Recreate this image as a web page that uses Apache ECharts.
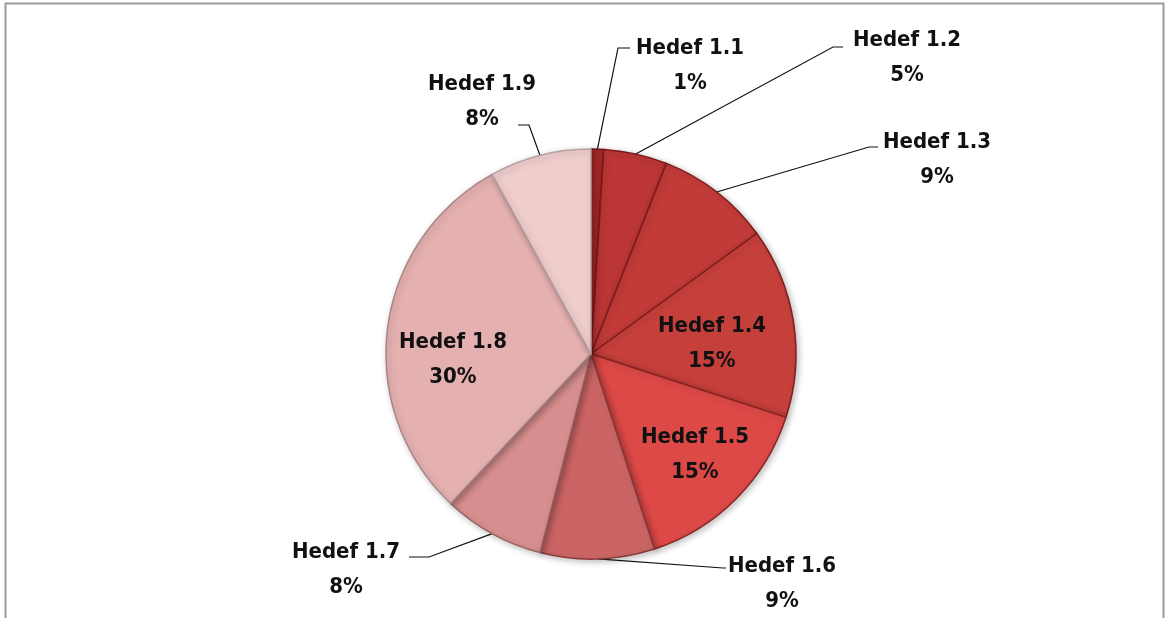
<!DOCTYPE html>
<html>
<head>
<meta charset="utf-8">
<script src="https://cdn.jsdelivr.net/npm/echarts@6/dist/echarts.min.js"></script>
<style>
html,body{margin:0;padding:0;background:#fff;}
#c{width:1169px;height:618px;}
</style>
</head>
<body>
<div id="c"></div>
<script>
const categories = ['Hedef 1.1','Hedef 1.2','Hedef 1.3','Hedef 1.4','Hedef 1.5','Hedef 1.6','Hedef 1.7','Hedef 1.8','Hedef 1.9'];
const values = [1, 5, 9, 15, 15, 9, 8, 30, 8];
const colors = ['#a82a2a','#bd3636','#c23b38','#c6403b','#dd4947','#cb6565','#d78e8e','#e5b0b0','#f0cdcd'];
const borders = ['#6e1414','#7a1a1a','#7e1c1c','#801e1e','#8c2424','#8a3a3a','#9a6060','#a88484','#b8a0a0'];
const insideSet = [3, 4, 7];

// label layout (text centre, line bend, line end)
const labelLayoutCfg = {
  0: {x: 690, y: 66, bend: [618, 48], end: [630, 48]},
  1: {x: 907, y: 58, bend: [833, 47], end: [843, 47]},
  2: {x: 937, y: 160, bend: [869, 147], end: [878, 147]},
  3: {x: 712, y: 344},
  4: {x: 695, y: 455},
  5: {x: 782, y: 584, bend: [723, 568], end: [726, 568]},
  6: {x: 346, y: 570, bend: [429, 557], end: [409, 557]},
  7: {x: 453, y: 360},
  8: {x: 482, y: 102, bend: [529, 125], end: [518, 125]}
};

const data = categories.map((name, i) => {
  const inside = insideSet.indexOf(i) >= 0;
  return {
    name: name,
    value: values[i],
    itemStyle: {color: colors[i], borderColor: borders[i]},
    label: {position: inside ? 'inside' : 'outside'},
    labelLine: {show: !inside}
  };
});

const chart = echarts.init(document.getElementById('c'), null, {renderer: 'canvas'});
chart.setOption({
  animation: false,
  backgroundColor: '#ffffff',
  graphic: [{
    type: 'polyline',
    shape: {points: [[5.5, 618], [5.5, 3.5], [1163.5, 3.5], [1163.5, 618]]},
    style: {stroke: '#9a9a9a', lineWidth: 2, fill: null},
    silent: true
  }],
  series: [{
    type: 'pie',
    center: [591, 354],
    radius: 205,
    startAngle: 90,
    clockwise: true,
    data: data,
    itemStyle: {borderWidth: 1.5, shadowBlur: 6, shadowColor: 'rgba(0,0,0,0.25)', shadowOffsetX: 2, shadowOffsetY: 2},
    label: {
      show: true,
      formatter: '{b}\n{c}%',
      fontFamily: '"DejaVu Sans Condensed", "DejaVu Sans", sans-serif',
      fontWeight: 'bold',
      fontSize: 22,
      lineHeight: 35,
      color: '#111111',
      align: 'center'
    },
    labelLine: {show: true, length: 20, length2: 10, lineStyle: {color: '#111', width: 1.2}},
    labelLayout: function (p) {
      const cfg = labelLayoutCfg[p.dataIndex];
      if (!cfg) return {};
      const out = {x: cfg.x, y: cfg.y, align: 'center', verticalAlign: 'middle'};
      if (cfg.bend && p.labelLinePoints) {
        out.labelLinePoints = [p.labelLinePoints[0], cfg.bend, cfg.end];
      }
      return out;
    }
  }]
});
</script>
</body>
</html>
